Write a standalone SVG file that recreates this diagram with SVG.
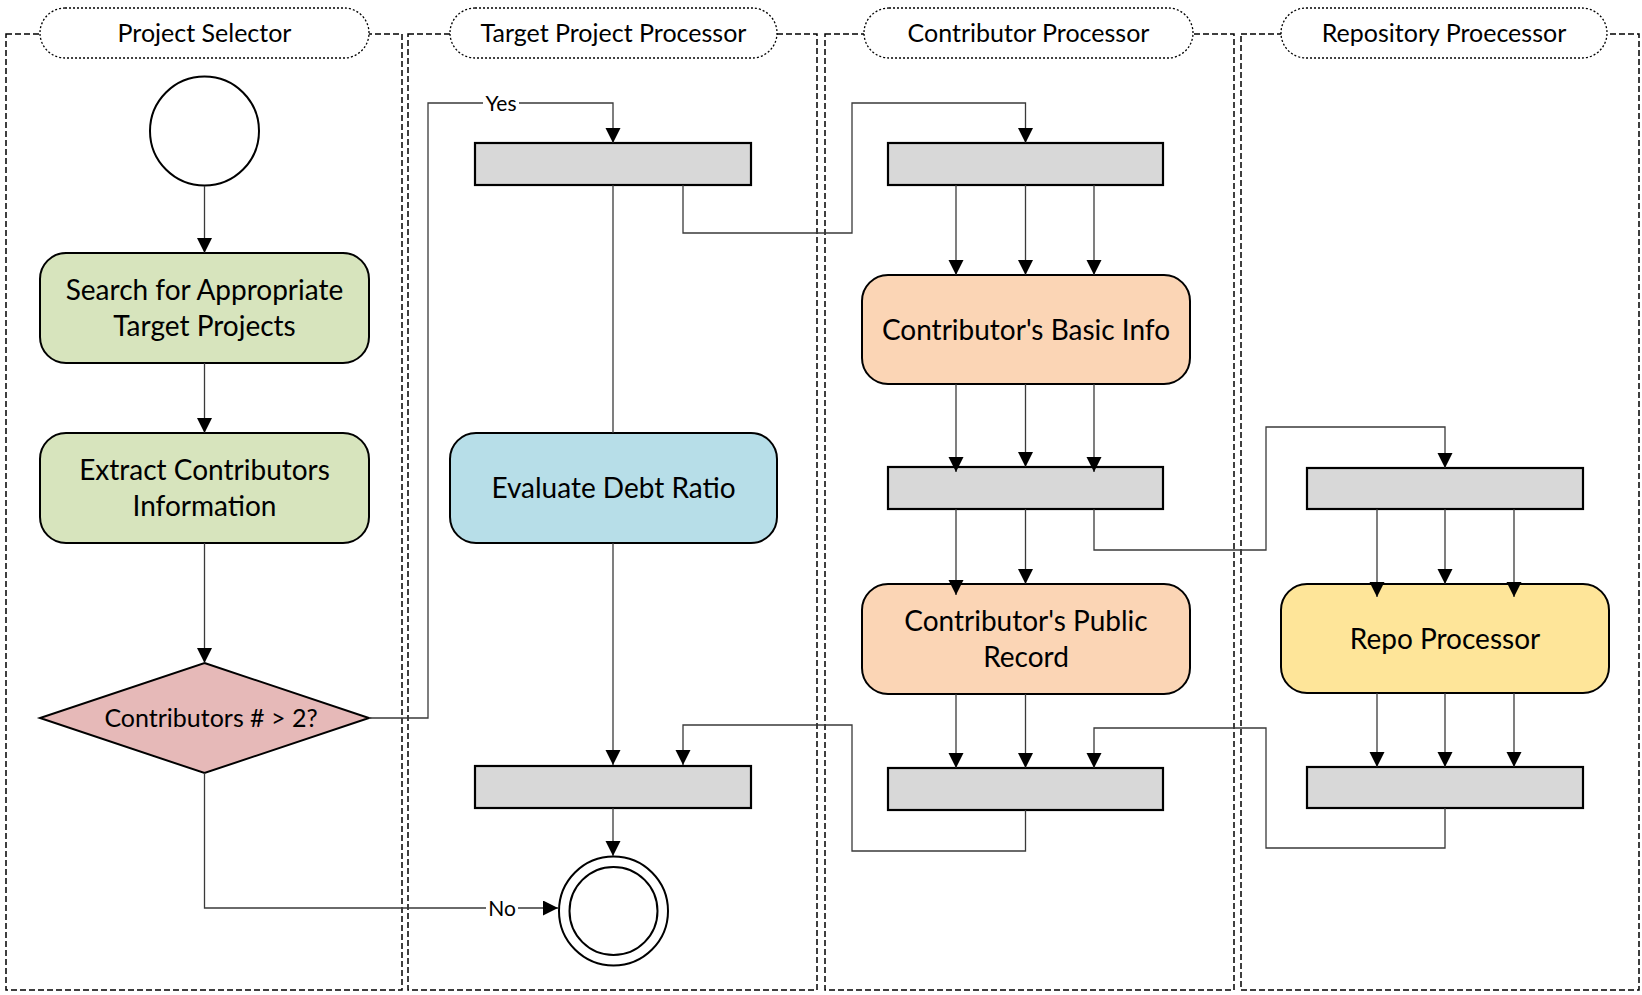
<svg xmlns="http://www.w3.org/2000/svg" width="1642" height="995" viewBox="0 0 1642 995">
<style>
.lane{fill:none;stroke:#000;stroke-width:1.5;stroke-dasharray:6 3}
.pill{fill:#fff;stroke:#000;stroke-width:1.3;stroke-dasharray:2 2}
.title{font-family:Lato,"Liberation Sans",sans-serif;font-size:25px;fill:#000;text-anchor:middle;dominant-baseline:central}
.lbl{font-family:Lato,"Liberation Sans",sans-serif;font-size:28px;fill:#000;text-anchor:middle;dominant-baseline:central}
.small{font-family:Lato,"Liberation Sans",sans-serif;font-size:21px;fill:#000;text-anchor:middle;dominant-baseline:central}
.box{stroke:#000;stroke-width:2}
.bar{fill:#d8d8d8;stroke:#000;stroke-width:2.2}
.conn{fill:none;stroke:#3a3a3a;stroke-width:1.3}
.arr{marker-end:url(#ah)}
</style>
<defs>
<marker id="ah" markerUnits="userSpaceOnUse" markerWidth="16" markerHeight="16" refX="15" refY="7.5" orient="auto">
<path d="M0,0 L15,7.5 L0,15 z" fill="#000"/>
</marker>
</defs>
<rect width="1642" height="995" fill="#fff"/>
<g id="lanes">
<g id="lane-project-selector">
<rect class="lane" x="6" y="34" width="396" height="956"/>
<rect class="pill" x="40" y="8" width="329" height="50" rx="25"/>
<text class="title" x="204.5" y="32">Project Selector</text>
</g>
<g id="lane-target-project-processor">
<rect class="lane" x="408" y="34" width="409" height="956"/>
<rect class="pill" x="450" y="8" width="327" height="50" rx="25"/>
<text class="title" x="613.5" y="32">Target Project Processor</text>
</g>
<g id="lane-contributor-processor">
<rect class="lane" x="825" y="34" width="409" height="956"/>
<rect class="pill" x="864" y="8" width="329" height="50" rx="25"/>
<text class="title" x="1028.5" y="32">Contributor Processor</text>
</g>
<g id="lane-repository-processor">
<rect class="lane" x="1241" y="34" width="398" height="956"/>
<rect class="pill" x="1281" y="8" width="326" height="50" rx="25"/>
<text class="title" x="1444" y="32">Repository Proecessor</text>
</g>
</g>
<g id="start">
<circle cx="204.5" cy="131" r="54.5" fill="#fff" stroke="#000" stroke-width="2"/>
</g>
<g id="search">
<rect class="box" x="40" y="253" width="329" height="110" rx="26" fill="#d7e4bd"/>
<text class="lbl" x="204.5" y="289">Search for Appropriate</text>
<text class="lbl" x="204.5" y="325">Target Projects</text>
</g>
<g id="extract">
<rect class="box" x="40" y="433" width="329" height="110" rx="26" fill="#d7e4bd"/>
<text class="lbl" x="204.5" y="469">Extract Contributors</text>
<text class="lbl" x="204.5" y="505">Information</text>
</g>
<g id="decision">
<polygon class="box" points="204.5,663 369,718 204.5,773 40,718" fill="#e6b9b8"/>
<text class="lbl" x="211" y="717" style="font-size:25px">Contributors # &gt; 2?</text>
</g>
<g id="bar1"><rect class="bar" x="475" y="143" width="276" height="42"/></g>
<g id="evaluate">
<rect class="box" x="450" y="433" width="327" height="110" rx="26" fill="#b7dee8"/>
<text class="lbl" x="613.5" y="487">Evaluate Debt Ratio</text>
</g>
<g id="bar2"><rect class="bar" x="475" y="766" width="276" height="42"/></g>
<g id="end">
<circle cx="613.5" cy="911" r="54.5" fill="#fff" stroke="#000" stroke-width="2"/>
<circle cx="613.5" cy="911" r="44" fill="none" stroke="#000" stroke-width="2"/>
</g>
<g id="barA"><rect class="bar" x="888" y="143" width="275" height="42"/></g>
<g id="basic-info">
<rect class="box" x="862" y="275" width="328" height="109" rx="26" fill="#fbd5b5"/>
<text class="lbl" x="1026" y="329">Contributor's Basic Info</text>
</g>
<g id="barB"><rect class="bar" x="888" y="467" width="275" height="42"/></g>
<g id="public-record">
<rect class="box" x="862" y="584" width="328" height="110" rx="26" fill="#fbd5b5"/>
<text class="lbl" x="1026" y="620">Contributor's Public</text>
<text class="lbl" x="1026" y="656">Record</text>
</g>
<g id="barC"><rect class="bar" x="888" y="768" width="275" height="42"/></g>
<g id="barD"><rect class="bar" x="1307" y="468" width="276" height="41"/></g>
<g id="repo">
<rect class="box" x="1281" y="584" width="328" height="109" rx="26" fill="#fee599"/>
<text class="lbl" x="1445" y="638">Repo Processor</text>
</g>
<g id="barF"><rect class="bar" x="1307" y="767" width="276" height="41"/></g>
<g id="connectors">
<path class="conn arr" d="M204.5,186 V253"/>
<path class="conn arr" d="M204.5,363 V433"/>
<path class="conn arr" d="M204.5,543 V663"/>
<path class="conn arr" d="M369,718 H428 V103 H613 V143"/>
<path class="conn arr" d="M204.5,773 V908 H558"/>
<path class="conn" d="M613,185 V433"/>
<path class="conn arr" d="M683,185 V233 H852 V103 H1025.5 V143"/>
<path class="conn arr" d="M613,543 V765"/>
<path class="conn arr" d="M1025.5,810 V851 H852 V725 H683 V765"/>
<path class="conn arr" d="M613,808 V856"/>
<path class="conn arr" d="M956,185 V275"/>
<path class="conn arr" d="M1025.5,185 V275"/>
<path class="conn arr" d="M1094,185 V275"/>
<path class="conn arr" d="M956,384 V472"/>
<path class="conn arr" d="M1025.5,384 V467"/>
<path class="conn arr" d="M1094,384 V472"/>
<path class="conn arr" d="M956,509 V595"/>
<path class="conn arr" d="M1025.5,509 V584"/>
<path class="conn arr" d="M1094,509 V550 H1266 V427 H1445 V468"/>
<path class="conn arr" d="M956,694 V768"/>
<path class="conn arr" d="M1025.5,694 V768"/>
<path class="conn arr" d="M1445,808 V848 H1266 V728 H1094 V768"/>
<path class="conn arr" d="M1377,509 V597"/>
<path class="conn arr" d="M1445,509 V584"/>
<path class="conn arr" d="M1514,509 V597"/>
<path class="conn arr" d="M1377,693 V767"/>
<path class="conn arr" d="M1445,693 V767"/>
<path class="conn arr" d="M1514,693 V767"/>
<rect x="483" y="92" width="36" height="22" fill="#fff"/>
<text class="small" x="501" y="102">Yes</text>
<rect x="486" y="897" width="32" height="22" fill="#fff"/>
<text class="small" x="502" y="907">No</text>
</g>
</svg>
